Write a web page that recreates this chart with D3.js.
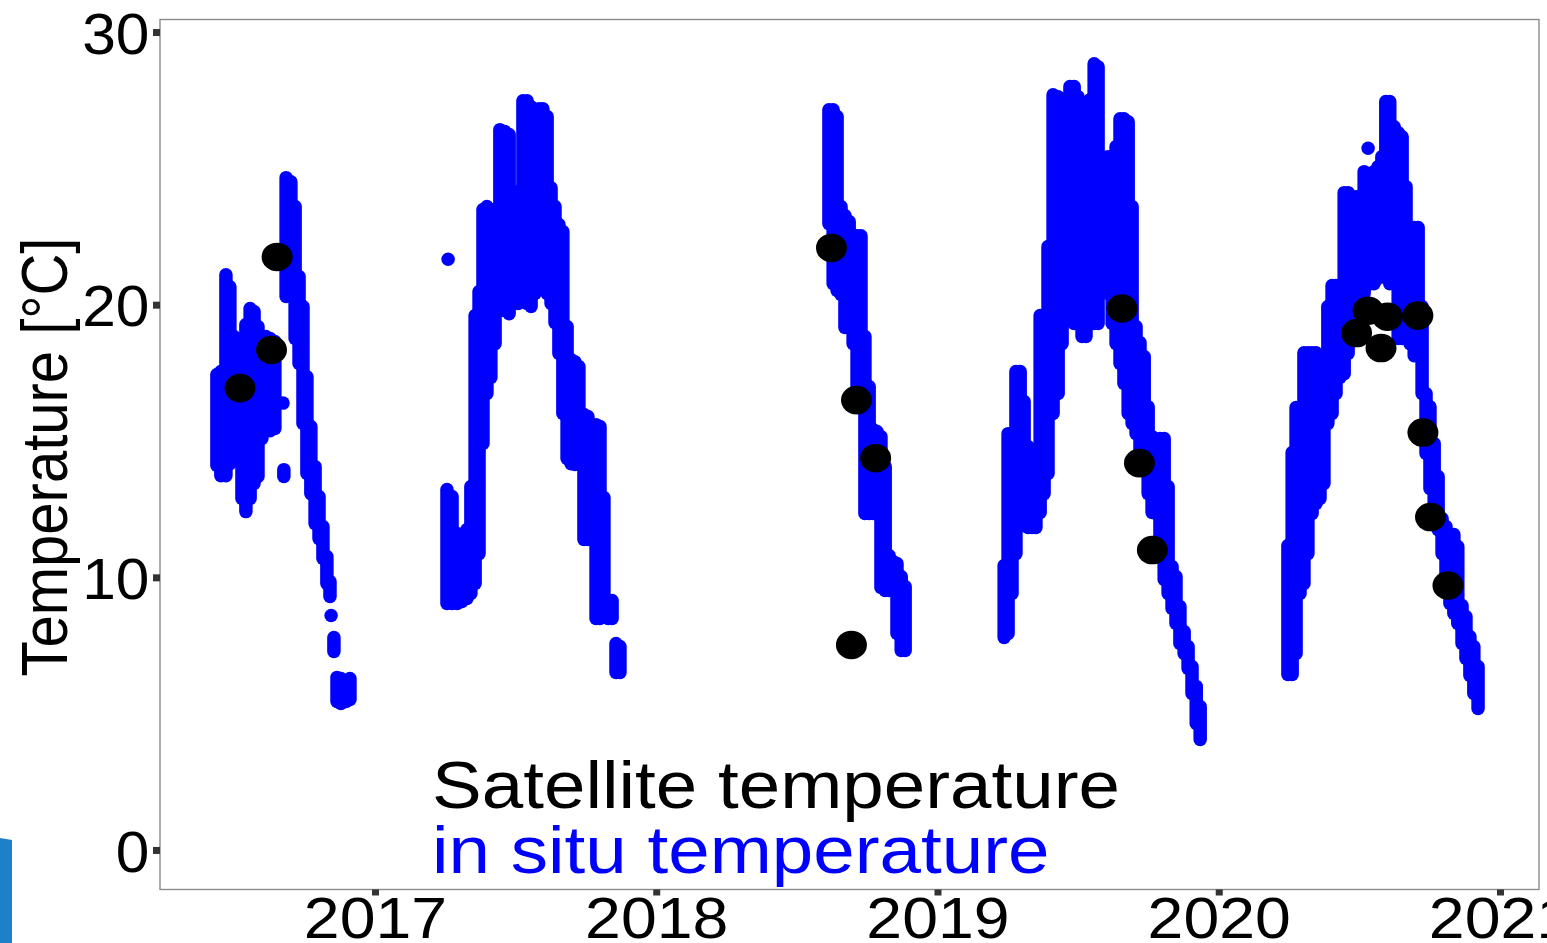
<!DOCTYPE html>
<html lang="en">
<head>
<meta charset="UTF-8">
<title>Satellite and in situ temperature</title>
<style>
    body {
        margin: 0;
        background: #fff;
        font-family: "Liberation Sans", Arial, sans-serif;
    }
</style>
<script src="https://cdn.jsdelivr.net/npm/d3@7"></script>
</head>
<body>
<script>
// in situ temperature: [decimal year, low, high]
var insitu2016 = [
    [2016.438, 14.10, 17.44], [2016.452, 13.73, 17.55], [2016.470, 13.73, 21.10],
    [2016.484, 14.17, 20.66], [2016.499, 14.83, 18.83], [2016.513, 14.98, 18.28],
    [2016.527, 12.89, 17.73], [2016.541, 12.41, 19.27], [2016.556, 12.89, 19.86],
    [2016.570, 13.44, 19.75], [2016.584, 13.70, 19.20], [2016.598, 15.09, 18.65],
    [2016.612, 15.38, 18.83], [2016.627, 15.38, 18.76], [2016.644, 15.46, 18.65],
    [2016.673, 16.39, 16.39], [2016.676, 13.70, 13.95], [2016.684, 20.30, 24.66],
    [2016.701, 20.41, 24.51], [2016.716, 18.76, 23.60], [2016.730, 17.84, 21.03],
    [2016.744, 15.64, 19.93], [2016.758, 13.81, 17.36], [2016.772, 13.07, 15.53],
    [2016.787, 11.97, 14.06], [2016.801, 11.42, 12.96], [2016.815, 10.69, 11.86],
    [2016.829, 9.77, 10.76], [2016.840, 9.30, 9.85], [2016.844, 8.60, 8.60],
    [2016.854, 7.28, 7.79], [2016.865, 5.45, 6.33], [2016.879, 5.37, 6.29],
    [2016.897, 5.45, 6.18], [2016.911, 5.52, 6.29]
];
var insitu2017 = [
    [2017.260, 21.67, 21.67], [2017.256, 9.04, 13.22], [2017.274, 9.04, 12.96],
    [2017.292, 9.04, 11.61], [2017.309, 9.11, 11.50], [2017.327, 9.22, 11.75],
    [2017.341, 9.41, 13.33], [2017.356, 9.77, 19.60], [2017.370, 10.87, 20.48],
    [2017.384, 14.91, 23.49], [2017.398, 16.74, 23.60], [2017.412, 17.33, 23.49],
    [2017.427, 18.57, 23.49], [2017.444, 19.78, 26.42], [2017.462, 19.78, 26.35],
    [2017.477, 19.67, 26.24], [2017.494, 20.04, 24.15], [2017.509, 20.04, 23.96],
    [2017.526, 20.15, 27.48], [2017.541, 20.04, 27.48], [2017.555, 19.93, 27.26],
    [2017.569, 20.41, 25.83], [2017.583, 20.66, 27.19], [2017.597, 20.59, 27.19],
    [2017.612, 20.41, 26.90], [2017.626, 20.04, 24.29], [2017.640, 19.34, 23.60],
    [2017.654, 18.21, 22.94], [2017.668, 16.01, 22.68], [2017.683, 14.36, 19.20],
    [2017.697, 14.17, 17.99], [2017.711, 14.14, 17.91], [2017.725, 14.17, 17.73],
    [2017.743, 11.39, 15.97], [2017.757, 11.39, 15.90], [2017.772, 11.61, 15.60],
    [2017.786, 8.49, 15.60], [2017.800, 8.49, 15.53], [2017.814, 8.64, 12.93],
    [2017.829, 8.49, 9.15], [2017.843, 8.49, 9.15], [2017.857, 6.51, 7.57],
    [2017.871, 6.51, 7.46]
];
var insitu2018 = [
    [2018.614, 22.97, 27.15], [2018.629, 20.77, 27.15], [2018.643, 20.52, 26.90],
    [2018.657, 20.37, 23.60], [2018.671, 19.16, 23.27], [2018.686, 19.16, 23.05],
    [2018.700, 18.57, 22.53], [2018.714, 16.70, 22.53], [2018.728, 16.30, 22.53],
    [2018.742, 12.34, 18.83], [2018.757, 12.34, 17.00], [2018.771, 12.34, 15.42],
    [2018.785, 12.34, 15.35], [2018.799, 9.63, 15.16], [2018.814, 9.52, 14.06],
    [2018.828, 9.52, 10.80], [2018.842, 9.52, 10.58], [2018.856, 7.94, 10.51],
    [2018.871, 7.32, 10.03], [2018.885, 7.32, 9.66]
];
var insitu2019 = [
    [2019.237, 7.79, 10.43], [2019.251, 7.94, 15.27], [2019.265, 9.41, 15.27],
    [2019.279, 10.87, 17.55], [2019.294, 11.90, 17.55], [2019.308, 11.97, 16.45],
    [2019.322, 11.83, 14.80], [2019.336, 11.83, 13.70], [2019.350, 11.83, 13.55],
    [2019.365, 12.38, 19.60], [2019.379, 13.07, 19.60], [2019.393, 13.81, 22.13],
    [2019.411, 16.01, 27.70], [2019.429, 16.74, 27.63], [2019.443, 18.57, 26.16],
    [2019.457, 23.60, 25.80], [2019.471, 21.87, 28.00], [2019.486, 19.31, 28.00],
    [2019.500, 19.31, 27.63], [2019.514, 18.83, 26.90], [2019.528, 18.83, 26.35],
    [2019.542, 19.31, 27.52], [2019.557, 19.31, 28.84], [2019.571, 19.31, 28.73],
    [2019.592, 22.97, 25.06], [2019.606, 20.41, 25.43], [2019.621, 19.31, 25.06],
    [2019.635, 18.57, 25.80], [2019.649, 17.84, 26.82], [2019.663, 17.11, 26.82],
    [2019.678, 16.01, 26.71], [2019.692, 15.64, 23.60], [2019.706, 15.27, 19.20],
    [2019.720, 14.54, 18.61], [2019.735, 14.17, 18.10], [2019.749, 13.07, 16.26],
    [2019.763, 12.38, 15.16], [2019.777, 12.34, 14.80], [2019.791, 10.87, 15.09],
    [2019.806, 9.92, 15.09], [2019.820, 9.41, 13.33], [2019.834, 8.86, 10.40],
    [2019.848, 8.31, 10.03], [2019.862, 7.57, 8.93], [2019.877, 7.21, 8.01],
    [2019.891, 6.66, 7.46], [2019.905, 5.74, 6.73], [2019.920, 4.64, 6.00],
    [2019.934, 4.05, 5.26]
];
var insitu2020 = [
    [2020.246, 6.44, 11.17], [2020.261, 6.44, 14.58], [2020.275, 7.21, 16.23],
    [2020.289, 9.41, 16.23], [2020.303, 9.77, 18.24], [2020.317, 10.87, 18.24],
    [2020.332, 12.34, 18.24], [2020.346, 12.71, 18.24], [2020.360, 12.89, 18.10],
    [2020.374, 13.44, 18.10], [2020.388, 15.64, 19.93], [2020.403, 16.01, 20.70],
    [2020.417, 16.74, 20.70], [2020.431, 17.33, 20.70], [2020.446, 17.47, 24.11],
    [2020.460, 18.21, 24.11], [2020.474, 18.94, 23.96], [2020.488, 19.31, 23.96],
    [2020.502, 19.67, 23.96], [2020.517, 20.41, 24.88], [2020.531, 25.74, 25.74],
    [2020.538, 20.77, 24.70], [2020.552, 20.77, 24.88], [2020.566, 20.96, 25.06],
    [2020.580, 21.03, 25.43], [2020.594, 21.03, 27.45], [2020.608, 20.77, 27.45],
    [2020.624, 22.90, 26.53], [2020.638, 18.76, 26.31], [2020.652, 18.76, 26.16],
    [2020.666, 18.76, 24.33], [2020.680, 18.57, 22.83], [2020.695, 18.13, 22.83],
    [2020.709, 18.13, 22.83], [2020.723, 16.74, 19.93], [2020.737, 14.54, 16.74],
    [2020.751, 13.26, 16.26], [2020.766, 11.97, 14.91], [2020.780, 11.75, 13.70],
    [2020.794, 10.87, 12.16], [2020.808, 9.44, 11.86], [2020.822, 9.04, 11.57],
    [2020.836, 8.67, 11.57], [2020.850, 8.31, 11.13], [2020.865, 7.57, 8.97],
    [2020.879, 7.02, 8.56], [2020.893, 6.40, 7.83], [2020.907, 5.74, 7.46],
    [2020.922, 5.19, 6.73]
];

// satellite temperature: [decimal year, temperature]
var satellite = [
    [2016.520, 16.94], [2016.632, 18.34], [2016.652, 21.75],
    [2018.623, 22.08], [2018.712, 16.50], [2018.780, 14.37], [2018.694, 7.52],
    [2019.656, 19.86], [2019.718, 14.19], [2019.764, 11.00],
    [2020.490, 18.96], [2020.531, 19.78], [2020.577, 18.41], [2020.600, 19.56],
    [2020.708, 19.60], [2020.726, 15.31], [2020.753, 12.21], [2020.815, 9.70]
];

var yTicks = [0, 10, 20, 30];
var xTicks = [2017, 2018, 2019, 2020, 2021];

var width = 1547, height = 943;
var plotLeft = 160, plotRight = 1539, plotTop = 19.5, plotBottom = 889.5;
var stretch = 1.13;

var svg = d3.select("body")
    .append("svg")
    .attr("width", width)
    .attr("height", height);

var x = d3.scaleLinear().domain([2016.2356, 2021.1387]).range([plotLeft, plotRight]);
var y = d3.scaleLinear().domain([-1.45, 30.46]).range([plotBottom, plotTop]);

// blue strip at the lower left edge of the picture
svg.append("path")
    .attr("d", "M0,838 L12,840 L12,943 L0,943 Z")
    .attr("fill", "#1e80c6");

svg.append("rect")
    .attr("x", plotLeft)
    .attr("y", plotTop)
    .attr("width", plotRight - plotLeft)
    .attr("height", plotBottom - plotTop)
    .attr("fill", "none")
    .attr("stroke", "#8a8a8a")
    .attr("stroke-width", 1.4);

var insitu = insitu2016.concat(insitu2017, insitu2018, insitu2019, insitu2020);

svg.append("g")
    .selectAll("line")
    .data(insitu)
    .join("line")
    .attr("x1", d => x(d[0]))
    .attr("x2", d => x(d[0]))
    .attr("y1", d => y(d[1]))
    .attr("y2", d => y(d[2]))
    .attr("stroke", "#0000ff")
    .attr("stroke-width", 13.5)
    .attr("stroke-linecap", "round");

svg.append("g")
    .selectAll("ellipse")
    .data(satellite)
    .join("ellipse")
    .attr("cx", d => x(d[0]))
    .attr("cy", d => y(d[1]))
    .attr("rx", 15.5)
    .attr("ry", 14.3)
    .attr("fill", "#000");

// axes
var yAxis = svg.append("g")
    .attr("transform", "translate(" + plotLeft + ",0)")
    .call(d3.axisLeft(y).tickValues(yTicks).tickSize(7).tickPadding(3));
var xAxis = svg.append("g")
    .attr("transform", "translate(0," + plotBottom + ")")
    .call(d3.axisBottom(x).tickValues(xTicks).tickFormat(d3.format("d")).tickSize(6).tickPadding(2));

[yAxis, xAxis].forEach(function(ax) {
    ax.select(".domain").remove();
    ax.selectAll(".tick line").attr("stroke", "#333").attr("stroke-width", 7);
    ax.selectAll(".tick text")
        .attr("fill", "#000")
        .attr("font-size", 57)
        .attr("font-family", "'Liberation Sans', Arial, sans-serif")
        .attr("transform", "scale(" + stretch + ",1)");
});
yAxis.selectAll(".tick text")
    .attr("dy", "0.37em")
    .attr("transform", "scale(1.06,1)");

svg.append("text")
    .attr("transform", "translate(67,457) scale(" + stretch + ",1) rotate(-90)")
    .attr("text-anchor", "middle")
    .attr("font-size", 58)
    .attr("fill", "#000")
    .text("Temperature [°C]");

// legend
var legend = [
    { label: "Satellite temperature", color: "#000", baseline: 808 },
    { label: "in situ temperature", color: "#0000ff", baseline: 873 }
];
svg.append("g")
    .selectAll("text")
    .data(legend)
    .join("text")
    .attr("transform", d => "translate(432," + d.baseline + ") scale(" + stretch + ",1)")
    .attr("font-size", 66)
    .attr("fill", d => d.color)
    .text(d => d.label);
</script>
</body>
</html>
